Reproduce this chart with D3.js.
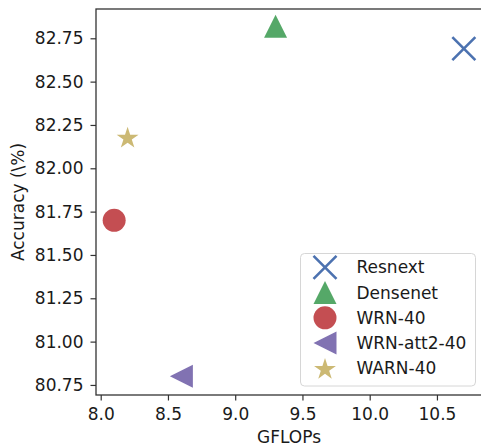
<!DOCTYPE html>
<html>
<head>
<meta charset="utf-8">
<script src="https://cdn.jsdelivr.net/npm/d3@7/dist/d3.min.js"></script>
<style>
  body { margin: 0; background: #fff; }
  svg { display: block; font-family: "DejaVu Sans", sans-serif; }
</style>
</head>
<body>
<div id="chart"></div>
<script>
// data
var models = ["Resnext", "Densenet", "WRN-40", "WRN-att2-40", "WARN-40"];
var gflops = [10.7, 9.3, 8.1, 8.6, 8.2];
var accuracy = [82.69, 82.82, 81.70, 80.80, 82.18];
var shapes = ["x", "triangleUp", "circle", "triangleLeft", "star"];
var colors = ["#4C72B0", "#55A868", "#C44E52", "#8172B2", "#CCB974"];
var xTicks = [8.0, 8.5, 9.0, 9.5, 10.0, 10.5];
var yTicks = [80.75, 81.00, 81.25, 81.50, 81.75, 82.00, 82.25, 82.50, 82.75];

var W = 481, H = 446;
var margin = {top: 9, right: -1, bottom: 51, left: 96};
var fontSize = 17;
var msize = 23;

var svg = d3.select("#chart").append("svg")
    .attr("width", W)
    .attr("height", H);

var x = d3.scaleLinear().domain([7.965, 10.835]).range([margin.left, W - margin.right]);
var y = d3.scaleLinear().domain([80.692, 82.919]).range([H - margin.bottom, margin.top]);

// marker path for matplotlib-like shapes, centred at 0,0
function markerPath(shape, m) {
    var r = m / 2;
    if (shape == "circle") {
        return d3.symbol(d3.symbolCircle, Math.PI * r * r)();
    }
    if (shape == "triangleUp") {
        return "M0," + (-r) + "L" + (-r) + "," + r + "L" + r + "," + r + "Z";
    }
    if (shape == "triangleLeft") {
        return "M" + (-r) + ",0L" + r + "," + (-r) + "L" + r + "," + r + "Z";
    }
    if (shape == "star") {
        var pts = [];
        var inner = r * 0.381966;
        for (var i = 0; i < 10; i++) {
            var a = -Math.PI / 2 + i * Math.PI / 5;
            var rr = i % 2 == 0 ? r : inner;
            pts.push([rr * Math.cos(a), rr * Math.sin(a) + r * 0.1]);
        }
        return "M" + pts.map(function (p) { return p.join(","); }).join("L") + "Z";
    }
    if (shape == "x") {
        return "M" + (-r) + "," + (-r) + "L" + r + "," + r + "M" + (-r) + "," + r + "L" + r + "," + (-r);
    }
}

function drawMarker(g, i) {
    var p = g.append("path").attr("d", markerPath(shapes[i], msize));
    if (shapes[i] == "x") {
        p.attr("fill", "none").attr("stroke", colors[i]).attr("stroke-width", 2.6);
    } else {
        p.attr("fill", colors[i]);
    }
}

// axes
var xAxis = svg.append("g")
    .attr("transform", "translate(0," + (H - margin.bottom) + ")")
    .call(d3.axisBottom(x).tickValues(xTicks).tickFormat(d3.format(".1f")).tickSize(5.5).tickPadding(7));
var yAxis = svg.append("g")
    .attr("transform", "translate(" + margin.left + ",0)")
    .call(d3.axisLeft(y).tickValues(yTicks).tickFormat(d3.format(".2f")).tickSize(5.5).tickPadding(7));

[xAxis, yAxis].forEach(function (a) {
    a.select(".domain").remove();
    a.selectAll(".tick line").attr("stroke", "#333").attr("stroke-width", 1.2);
    a.selectAll(".tick text")
        .attr("fill", "#1a1a1a")
        .style("font-size", fontSize + "px")
        .style("font-family", "DejaVu Sans, sans-serif");
});

// frame
svg.append("rect")
    .attr("x", margin.left)
    .attr("y", margin.top)
    .attr("width", W - margin.right - margin.left)
    .attr("height", H - margin.bottom - margin.top)
    .attr("fill", "none")
    .attr("stroke", "#333")
    .attr("stroke-width", 1.3);

// labels
svg.append("text")
    .attr("x", (margin.left + W - margin.right) / 2)
    .attr("y", 443)
    .attr("text-anchor", "middle")
    .attr("fill", "#1a1a1a")
    .style("font-size", fontSize + "px")
    .text("GFLOPs");

svg.append("text")
    .attr("transform", "translate(24," + (margin.top + H - margin.bottom) / 2 + ") rotate(-90)")
    .attr("text-anchor", "middle")
    .attr("fill", "#1a1a1a")
    .style("font-size", fontSize + "px")
    .text("Accuracy (\\%)");

// points
models.forEach(function (m, i) {
    var g = svg.append("g")
        .attr("transform", "translate(" + x(gflops[i]) + "," + y(accuracy[i]) + ")");
    drawMarker(g, i);
});

// legend
var lx = 300.5, ly = 253.5, lw = 175, lh = 132.5;
svg.append("rect")
    .attr("x", lx).attr("y", ly)
    .attr("width", lw).attr("height", lh)
    .attr("rx", 4)
    .attr("fill", "white").attr("fill-opacity", 0.8)
    .attr("stroke", "#d6d6d6").attr("stroke-width", 1);

var rowY = d3.scalePoint().domain(models).range([267.3, 368.3]);
models.forEach(function (m, i) {
    var g = svg.append("g").attr("transform", "translate(325," + rowY(m) + ")");
    drawMarker(g, i);
    svg.append("text")
        .attr("x", 356.5)
        .attr("y", rowY(m))
        .attr("dy", "0.36em")
        .attr("fill", "#1a1a1a")
        .style("font-size", fontSize + "px")
        .text(m);
});
</script>
</body>
</html>
